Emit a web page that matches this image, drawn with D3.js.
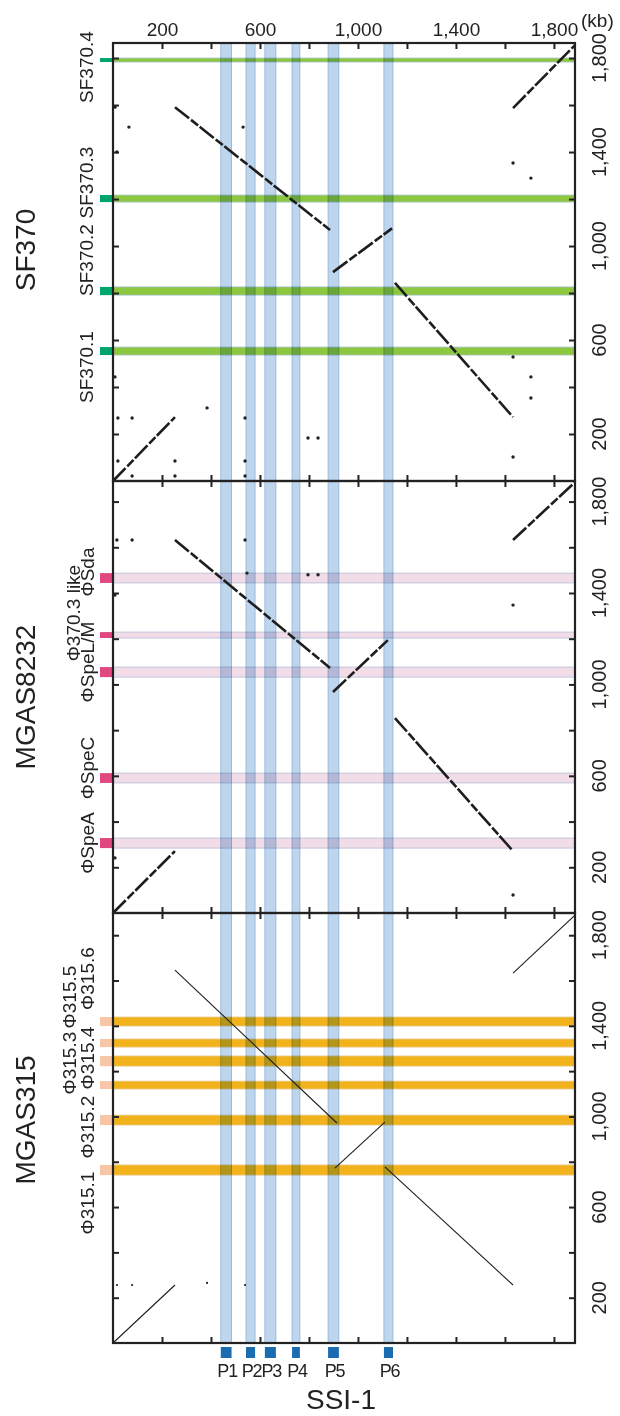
<!DOCTYPE html>
<html>
<head>
<meta charset="utf-8">
<script src="https://cdn.jsdelivr.net/npm/d3@7"></script>
<style>
  body { margin: 0; background: #fff; }
  text { font-family: "Liberation Sans", Arial, Helvetica, sans-serif; fill: #222; }
</style>
</head>
<body>
<svg id="chart"></svg>
<script>
// ---- data (kb) ----
const ssiLengthKb = 1886;
const xTickValues = [200, 400, 600, 800, 1000, 1200, 1400, 1600, 1800];
const xLabelValues = [200, 600, 1000, 1400, 1800];
const yTickValues = [200, 400, 600, 800, 1000, 1200, 1400, 1600, 1800];
const yLabelValues = [200, 600, 1000, 1400, 1800];

const genomeNames = ["SF370", "MGAS8232", "MGAS315"];
const genomeLengthsKb = [1864, 1890, 1898];

// SSI-1 regions P1..P6
const ssiRegionNames = ["P1", "P2", "P3", "P4", "P5", "P6"];
const ssiRegionStart = [440, 543, 620, 731, 878, 1106];
const ssiRegionEnd = [484, 580, 665, 763, 922, 1143];

// prophages in each genome
const sf370PhageNames = ["SF370.1", "SF370.2", "SF370.3", "SF370.4"];
const sf370PhageStart = [536, 791, 1187, 1783];
const sf370PhageEnd = [570, 826, 1217, 1800];

const mgas8232PhageNames = ["ΦSpeA", "ΦSpeC", "ΦSpeL/M", "Φ370.3 like", "ΦSda"];
const mgas8232PhageStart = [284, 569, 1032, 1203, 1444];
const mgas8232PhageEnd = [328, 612, 1076, 1229, 1487];

const mgas315PhageNames = ["Φ315.1", "Φ315.2", "Φ315.3", "Φ315.4", "Φ315.5", "Φ315.6"];
const mgas315PhageStart = [741, 962, 1121, 1222, 1306, 1399];
const mgas315PhageEnd = [786, 1006, 1156, 1267, 1342, 1439];

// aligned blocks: [SSI-1 start, genome start, SSI-1 end, genome end]
const sf370Blocks = [[0, 0, 253, 272], [253, 1591, 886, 1068], [898, 889, 1139, 1075],
                     [1151, 843, 1633, 272], [1633, 1587, 1886, 1855]];
const mgas8232Blocks = [[0, 0, 253, 271], [253, 1632, 886, 1072], [898, 967, 1122, 1194],
                        [1151, 853, 1633, 271], [1633, 1632, 1886, 1885]];
const mgas315Blocks = [[0, 0, 253, 256], [253, 1646, 914, 971], [906, 772, 1110, 975],
                       [1110, 777, 1633, 256], [1633, 1633, 1886, 1889]];

// repeat hits: [SSI-1 kb, genome kb]
const sf370Repeats = [[20, 268], [78, 268], [384, 311], [539, 268], [796, 183], [837, 183],
                      [20, 85], [253, 85], [539, 85], [78, 21], [253, 21], [539, 21],
                      [8, 1591], [16, 1400], [8, 443], [1633, 1353], [1706, 1289],
                      [1633, 528], [1706, 443], [1706, 353], [1633, 102], [65, 1506], [531, 1506]];
const mgas8232Repeats = [[16, 1632], [78, 1632], [539, 1632], [547, 1487], [8, 1391], [8, 241],
                         [1633, 1347], [1633, 79], [796, 1480], [837, 1480]];
const mgas315Repeats = [[16, 256], [78, 256], [539, 256], [384, 265]];

// ---- layout ----
const width = 620, height = 1416;
const left = 113, right = 575;
const panelTop = [43, 481, 913];
const panelBottom = [481, 913, 1343];
const nameShift = [-12, 0, -8];
const labelShift = [[16, -31, -16, 7], [0, -10, -10, -22, -6], [33, 7, -22, -3, -46, -43]];
const labelColumn = [[0, 0, 0, 0], [0, 0, 0, 1, 0], [0, 0, 1, 0, 1, 0]];
const columnX = [[93, 93], [94, 80], [94, 76]];
const bandFill = ["#8dc63f", "#f1dce7", "#f2b21c"];
const bandStroke = ["#a9c3d6", "#b3bdd6", "#e9cf9a"];
const markerFill = ["#00a56c", "#e0487f", "#f6c6a6"];
const lineWidth = [2.6, 2.6, 1.1];

const phageNames = [sf370PhageNames, mgas8232PhageNames, mgas315PhageNames];
const phageStart = [sf370PhageStart, mgas8232PhageStart, mgas315PhageStart];
const phageEnd = [sf370PhageEnd, mgas8232PhageEnd, mgas315PhageEnd];
const blocks = [sf370Blocks, mgas8232Blocks, mgas315Blocks];
const repeats = [sf370Repeats, mgas8232Repeats, mgas315Repeats];

const svg = d3.select("#chart").attr("width", width).attr("height", height);

const x = d3.scaleLinear().domain([0, ssiLengthKb]).range([left, right]);
const fmt = d3.format(",");

// horizontal prophage bands + left markers + labels
genomeNames.forEach((name, i) => {
    const y = d3.scaleLinear().domain([0, genomeLengthsKb[i]]).range([panelBottom[i], panelTop[i]]);
    const g = svg.append("g");
    const rows = phageNames[i].map((n, j) => ({ name: n, s: phageStart[i][j], e: phageEnd[i][j], j }));

    g.selectAll(".band").data(rows).enter().append("rect")
        .attr("x", left).attr("width", right - left)
        .attr("y", d => y(d.e)).attr("height", d => y(d.s) - y(d.e))
        .attr("fill", bandFill[i]).attr("stroke", bandStroke[i]).attr("stroke-width", 0.8);

    g.selectAll(".marker").data(rows).enter().append("rect")
        .attr("x", left - 13).attr("width", 12)
        .attr("y", d => y(d.e)).attr("height", d => y(d.s) - y(d.e))
        .attr("fill", markerFill[i]);

    g.selectAll(".plabel").data(rows).enter().append("text")
        .attr("transform", d => {
            const cy = (y(d.s) + y(d.e)) / 2 + labelShift[i][d.j];
            return `translate(${columnX[i][labelColumn[i][d.j]]},${cy}) rotate(-90)`;
        })
        .attr("text-anchor", "middle")
        .style("font-size", "19px")
        .text(d => d.name);

    // genome name
    svg.append("text")
        .attr("transform", `translate(35,${(panelTop[i] + panelBottom[i]) / 2 + nameShift[i]}) rotate(-90)`)
        .attr("text-anchor", "middle")
        .style("font-size", "28px")
        .text(name);
});

// SSI-1 region bands (vertical, through all panels)
const regions = ssiRegionNames.map((n, j) => ({ name: n, s: ssiRegionStart[j], e: ssiRegionEnd[j] }));
svg.append("g").selectAll("rect").data(regions).enter().append("rect")
    .attr("x", d => x(d.s)).attr("width", d => x(d.e) - x(d.s))
    .attr("y", panelTop[0]).attr("height", panelBottom[2] - panelTop[0])
    .attr("fill", "#a7c7e7").attr("fill-opacity", 0.75)
    .attr("stroke", "#8fb1d2").attr("stroke-width", 0.8)
    .style("mix-blend-mode", "multiply");

svg.append("g").selectAll("rect").data(regions).enter().append("rect")
    .attr("x", d => x(d.s)).attr("width", d => x(d.e) - x(d.s))
    .attr("y", panelBottom[2] + 4).attr("height", 11)
    .attr("fill", "#1b6cb0");

svg.append("g").selectAll("text").data(regions).enter().append("text")
    .attr("x", d => x((d.s + d.e) / 2) + 1).attr("y", panelBottom[2] + 34)
    .attr("text-anchor", "middle")
    .style("font-size", "18px")
    .style("letter-spacing", "-1.2px")
    .text(d => d.name);

// alignments, repeats, axes per panel
genomeNames.forEach((name, i) => {
    const y = d3.scaleLinear().domain([0, genomeLengthsKb[i]]).range([panelBottom[i], panelTop[i]]);
    const g = svg.append("g");

    g.selectAll("line").data(blocks[i]).enter().append("line")
        .attr("x1", d => x(d[0])).attr("y1", d => y(d[1]))
        .attr("x2", d => x(d[2])).attr("y2", d => y(d[3]))
        .attr("stroke", "#1e1e1e").attr("stroke-width", lineWidth[i])
        .attr("stroke-dasharray", i < 2 ? "18,2.5,9,2" : null);

    g.selectAll("circle").data(repeats[i]).enter().append("circle")
        .attr("cx", d => x(d[0])).attr("cy", d => y(d[1]))
        .attr("r", i < 2 ? 1.7 : 1.1)
        .attr("fill", "#222");

    // y ticks, inward on both sides
    const axL = d3.axisRight(y).tickValues(yTickValues).tickSize(6).tickFormat("").tickSizeOuter(0);
    const axR = d3.axisLeft(y).tickValues(yTickValues).tickSize(6).tickFormat("").tickSizeOuter(0);
    g.append("g").attr("transform", `translate(${left},0)`).call(axL);
    g.append("g").attr("transform", `translate(${right},0)`).call(axR);

    // right tick labels
    g.selectAll(".ylab").data(yLabelValues).enter().append("text")
        .attr("transform", d => `translate(606,${y(d)}) rotate(-90)`)
        .attr("text-anchor", "middle")
        .style("font-size", "20px")
        .text(d => fmt(d));

    // frame
    g.append("rect")
        .attr("x", left).attr("y", panelTop[i])
        .attr("width", right - left).attr("height", panelBottom[i] - panelTop[i])
        .attr("fill", "none").attr("stroke", "#222").attr("stroke-width", 2.2);
});

// x ticks: inward at top & bottom, crossing at panel boundaries
const xDown = d3.axisBottom(x).tickValues(xTickValues).tickSize(6).tickFormat("").tickSizeOuter(0);
const xUp = d3.axisTop(x).tickValues(xTickValues).tickSize(6).tickFormat("").tickSizeOuter(0);
[panelTop[0], panelBottom[0], panelBottom[1]].forEach(yy =>
    svg.append("g").attr("transform", `translate(0,${yy})`).call(xDown));
[panelBottom[0], panelBottom[1], panelBottom[2]].forEach(yy =>
    svg.append("g").attr("transform", `translate(0,${yy})`).call(xUp));

svg.selectAll(".domain").remove();
svg.selectAll(".tick line").attr("stroke", "#222").attr("stroke-width", 2);

// top labels
const xTop = svg.append("g").attr("transform", `translate(0,${panelTop[0]})`)
    .call(d3.axisTop(x).tickValues(xLabelValues).tickSize(0).tickPadding(7).tickFormat(fmt));
xTop.select(".domain").remove();
xTop.selectAll("text").style("font-size", "19px").attr("fill", "#222")
    .style("font-family", "'Liberation Sans', Arial, Helvetica, sans-serif");

svg.append("text").attr("x", 581).attr("y", 27).style("font-size", "19px").text("(kb)");

svg.append("text")
    .attr("x", 341).attr("y", 1409)
    .attr("text-anchor", "middle")
    .style("font-size", "28px")
    .text("SSI-1");
</script>
</body>
</html>
